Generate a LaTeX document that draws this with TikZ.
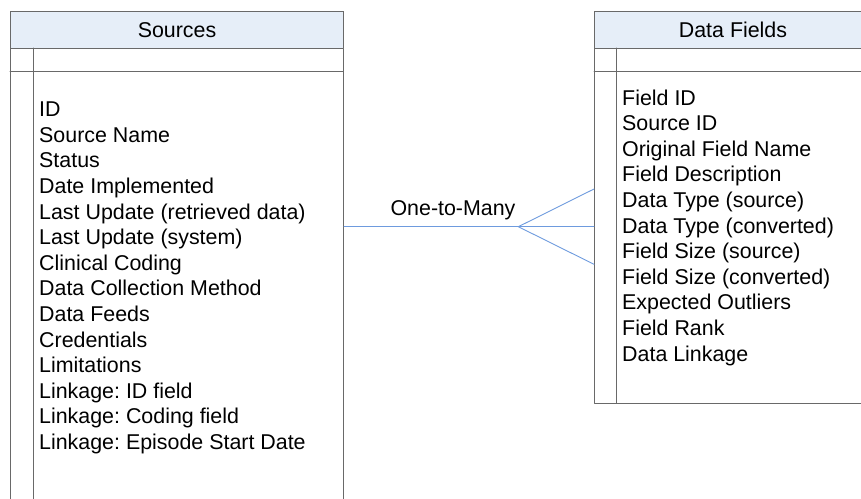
\documentclass[tikz,border=0pt]{standalone}
\usepackage{fontspec}
\setmainfont{Liberation Sans}
\usepackage{tikz}
\definecolor{boxgray}{RGB}{105,105,105}
\definecolor{headfill}{RGB}{230,238,248}
\definecolor{linkblue}{RGB}{110,155,222}
\newcommand\entfont{\fontsize{21.4}{25.6}\selectfont\frenchspacing}
\tikzset{
  tablebox/.style={draw=boxgray,line width=1pt,rectangle,anchor=north west,inner sep=0pt},
  tablehead/.style={tablebox,fill=headfill,font=\entfont},
  item/.style={anchor=base west,inner sep=0pt,font=\entfont},
  link/.style={draw=linkblue,line width=0.9pt}
}
\begin{document}
\begin{tikzpicture}[x=1pt,y=-1pt,line join=round,line cap=round]
	\useasboundingbox (0,0) rectangle (861,498);
	\clip (0,0) rectangle (861,498);
	% tables
	\node[tablebox,minimum width=333pt,minimum height=520pt] (src) at (10,11) {};
	\node[tablehead,minimum width=333pt,minimum height=37pt] (srchead) at (10,11) {Sources};
	\node[tablebox,minimum width=277pt,minimum height=392pt] (fld) at (594,11) {};
	\node[tablehead,minimum width=277pt,minimum height=37pt] (fldhead) at (594,11) {Data Fields};
	\draw[draw=boxgray,line width=1pt] (10,71) -- (343,71) (33,48) -- (33,531);
	\draw[draw=boxgray,line width=1pt] (594,71) -- (871,71) (616,48) -- (616,403);
	% attributes
	\foreach \t [count=\i] in {ID,Source Name,Status,Date Implemented,Last Update (retrieved data),Last Update (system),Clinical Coding,Data Collection Method,Data Feeds,Credentials,Limitations,Linkage: ID field,Linkage: Coding field,Linkage: Episode Start Date}{\node[item] (s\i) at (39,91.1+25.6*\i) {\t};}
	\foreach \t [count=\i] in {Field ID,Source ID,Original Field Name,Field Description,Data Type (source),Data Type (converted),Field Size (source),Field Size (converted),Expected Outliers,Field Rank,Data Linkage}{\node[item] (f\i) at (622,79.4+25.6*\i) {\t};}
	% relation
	\coordinate (fork) at (518.3,226.7);
	\draw[link] (src.east |- fork) -- (fld.west |- fork);
	\draw[link] (fld.west |- 0,189) -- (fork) -- (fld.west |- 0,264.3);
	\node[item,anchor=base] (rel) at (453,215.7) {One-to-Many};
\end{tikzpicture}
\end{document}
